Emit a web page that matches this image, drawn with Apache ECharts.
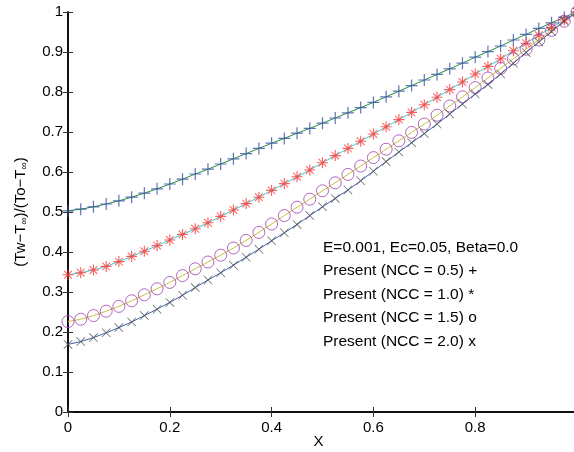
<!DOCTYPE html>
<html><head><meta charset="utf-8">
<script src="https://cdn.jsdelivr.net/npm/echarts@6/dist/echarts.min.js"></script>
<style>html,body{margin:0;padding:0;background:#fff}#c{width:574px;height:452px}</style>
</head><body><div id="c"></div>
<script>
const xValues = [0,0.025,0.05,0.075,0.1,0.125,0.15,0.175,0.2,0.225,0.25,0.275,0.3,0.325,0.35,0.375,0.4,0.425,0.45,0.475,0.5,0.525,0.55,0.575,0.6,0.625,0.65,0.675,0.7,0.725,0.75,0.775,0.8,0.825,0.85,0.875,0.9,0.925,0.95,0.975,1.0];
const ncc05 = [0.503,0.507,0.513,0.520,0.528,0.537,0.547,0.558,0.570,0.582,0.595,0.607,0.620,0.633,0.646,0.659,0.672,0.684,0.697,0.709,0.722,0.735,0.748,0.761,0.774,0.788,0.802,0.816,0.830,0.844,0.858,0.872,0.887,0.901,0.915,0.930,0.944,0.959,0.973,0.987,1.0];
const ncc10 = [0.343,0.348,0.355,0.364,0.376,0.389,0.402,0.416,0.430,0.444,0.458,0.473,0.489,0.505,0.521,0.537,0.554,0.571,0.588,0.605,0.623,0.641,0.659,0.677,0.695,0.713,0.731,0.749,0.768,0.787,0.806,0.825,0.845,0.864,0.883,0.903,0.922,0.942,0.961,0.980,1.0];
const ncc15 = [0.226,0.232,0.241,0.252,0.264,0.278,0.293,0.308,0.324,0.341,0.358,0.375,0.392,0.410,0.429,0.449,0.470,0.491,0.512,0.532,0.553,0.573,0.594,0.615,0.636,0.657,0.678,0.699,0.720,0.742,0.765,0.788,0.811,0.835,0.859,0.883,0.907,0.930,0.954,0.977,1.0];
const ncc20 = [0.169,0.176,0.186,0.198,0.211,0.225,0.241,0.257,0.274,0.292,0.311,0.330,0.348,0.367,0.387,0.407,0.428,0.448,0.469,0.491,0.513,0.534,0.555,0.578,0.602,0.626,0.650,0.673,0.696,0.720,0.745,0.770,0.795,0.819,0.845,0.872,0.899,0.925,0.951,0.977,1.0];
const xTicks = [0,0.2,0.4,0.6,0.8,1];
const yTicks = [0,0.1,0.2,0.3,0.4,0.5,0.6,0.7,0.8,0.9,1];
const legendLines = ['E=0.001, Ec=0.05, Beta=0.0','Present (NCC = 0.5) +','Present (NCC = 1.0) *','Present (NCC = 1.5) o','Present (NCC = 2.0) x'];

const FONT = '"Liberation Sans", Arial, Helvetica, sans-serif';
const PLUS = 'path://M4.5,0H5.5V10H4.5Z M0,4.5H10V5.5H0Z';
const CROSS = 'path://M0,0.6L0.6,0L10,9.4L9.4,10Z M9.4,0L10,0.6L0.6,10L0,9.4Z';
const STAR = 'path://M4.5,0H5.5V10H4.5Z M0,4.5H10V5.5H0Z M1.2,1.8L1.8,1.2L8.8,8.2L8.2,8.8Z M8.2,1.2L8.8,1.8L1.8,8.8L1.2,8.2Z';

function pairs(ys){ return xValues.map((x,i)=>[x, ys[i]]); }
function lineS(ys, color){ return {type:'line', data:pairs(ys), showSymbol:false, symbol:'none', lineStyle:{color:color, width:1}, z:2, animation:false}; }
function markS(ys, symbol, size, color, hollow){
  return {type:'scatter', data:pairs(ys), symbol:symbol, symbolSize:size,
    itemStyle: hollow ? {color:'rgba(0,0,0,0)', borderColor:color, borderWidth:1} : {color:color},
    z:3, animation:false};
}

const chart = echarts.init(document.getElementById('c'), null, {renderer:'canvas'});
const axisBase = {
  min:0, max:1, interval:0.2,
  axisLine:{lineStyle:{color:'#000', width:1.5}},
  axisTick:{inside:true, length:5, lineStyle:{color:'#333', width:1}},
  splitLine:{show:false}
};
chart.setOption({
  backgroundColor:'#fff',
  animation:false,
  grid:{left:68, top:12, width:509, height:400, containLabel:false, outerBoundsMode:'none'},
  xAxis:[
    Object.assign({}, axisBase, {type:'value', position:'bottom',
      name:'X', nameLocation:'middle', nameGap:22, nameMoveOverlap:false,
      nameTextStyle:{fontFamily:FONT, fontSize:15, color:'#000', padding:[0,8,0,0]},
      axisLabel:{fontFamily:FONT, fontSize:15, color:'#000', margin:8, hideOverlap:false,
        formatter:v=>{const t=xTicks.find(u=>Math.abs(u-v)<1e-9); return t===undefined?'':String(t);}}}),
    Object.assign({}, axisBase, {type:'value', position:'top', axisLabel:{show:false}})
  ],
  yAxis:[
    Object.assign({}, axisBase, {type:'value', interval:0.1, position:'left',
      name:'(Tw\u2212T{s|\u221E})/(To\u2212T{s|\u221E})', nameLocation:'middle', nameGap:39, nameMoveOverlap:false,
      nameTextStyle:{fontFamily:FONT, fontSize:15, color:'#000', rich:{s:{fontFamily:FONT, fontSize:10, color:'#000', padding:[6,0,0,0]}}},
      axisLabel:{fontFamily:FONT, fontSize:15, color:'#000', margin:5,
        formatter:v=>{const t=yTicks.find(u=>Math.abs(u-v)<1e-9); return t===undefined?'':String(t);}}}),
    Object.assign({}, axisBase, {type:'value', interval:0.1, position:'right', axisLabel:{show:false}})
  ],
  series:[
    lineS(ncc05,'#2e8b4a'), markS(ncc05, PLUS, 12, '#35539f', false),
    lineS(ncc10,'#3cc8c8'), markS(ncc10, STAR, 11, '#ff3333', false),
    lineS(ncc15,'#c8c03c'), markS(ncc15, 'circle', 12, '#a040b0', true),
    lineS(ncc20,'#4060b0'), markS(ncc20, CROSS, 9, '#444444', false)
  ],
  graphic: legendLines.map((t,i)=>({type:'text', left:323, top:239.5 + i*23.5,
    style:{text:t, fontFamily:FONT, fontSize:15.5, fill:'#000'}}))
});
</script></body></html>
